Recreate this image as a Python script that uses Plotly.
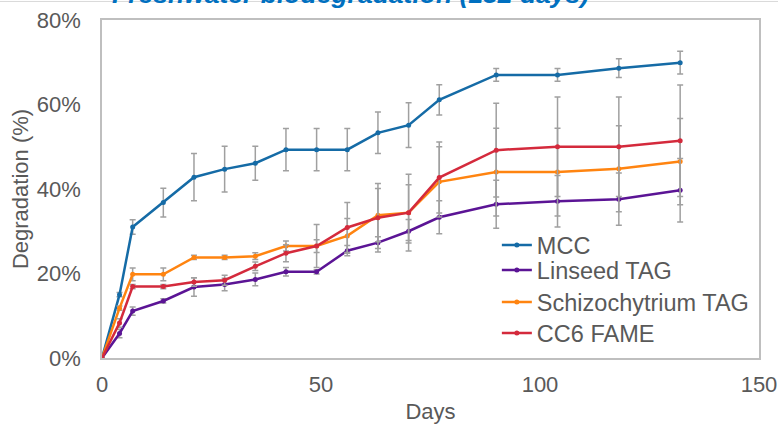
import plotly.graph_objects as go

days = [0, 4, 7, 14, 21, 28, 35, 42, 49, 56, 63, 70, 77, 90, 104, 118, 132]

mcc = [0, 15.0, 31.0, 36.8, 42.8, 44.7, 46.1, 49.3, 49.3, 49.3, 53.3, 55.1, 61.1, 67.0, 67.0, 68.6, 69.9]
mcc_err = [0, 0.5, 1.7, 3.4, 5.6, 5.4, 4.0, 5.0, 5.0, 5.0, 4.9, 5.3, 3.6, 1.5, 1.5, 2.2, 2.7]

linseed = [0, 5.8, 11.1, 13.5, 16.8, 17.4, 18.6, 20.4, 20.4, 25.4, 27.3, 30.0, 33.3, 36.4, 37.1, 37.6, 39.7]
linseed_err = [0, 1.0, 1.0, 0.5, 2.2, 1.5, 1.5, 1.0, 0.5, 1.2, 1.4, 2.8, 3.9, 5.7, 6.1, 6.2, 7.5]

schizo = [0, 11.8, 19.8, 19.8, 23.8, 23.8, 24.1, 26.5, 26.5, 28.9, 33.8, 34.4, 41.7, 44.0, 44.0, 44.8, 46.5]
schizo_err = [0, 0.5, 1.5, 1.5, 0.5, 0.5, 0.8, 1.2, 1.5, 4.1, 6.3, 6.6, 8.3, 10.4, 10.4, 10.2, 10.2]

cc6 = [0, 8.3, 16.9, 16.9, 18.0, 18.4, 21.7, 24.8, 26.5, 30.9, 33.2, 34.4, 42.7, 49.2, 50.0, 50.0, 51.4]
cc6_err = [0, 1.0, 0.5, 0.5, 1.0, 1.2, 1.0, 2.0, 5.1, 5.9, 8.1, 9.1, 8.4, 11.1, 11.8, 11.8, 13.2]

series_names = ["MCC", "Linseed TAG", "Schizochytrium TAG", "CC6 FAME"]
series_vals = [mcc, linseed, schizo, cc6]
series_errs = [mcc_err, linseed_err, schizo_err, cc6_err]
series_colors = ["#156BA6", "#5B1495", "#FF8410", "#D42A3C"]

x_ticks = [0, 50, 100, 150]
y_ticks = [0, 20, 40, 60, 80]
y_tick_labels = ["0%", "20%", "40%", "60%", "80%"]

FONT = "Liberation Sans, Arial, sans-serif"
GRAY = "#595959"

# one legend box per entry so the uneven spacing of the reference can be kept
legend_ids = ["legend", "legend2", "legend3", "legend4"]
legend_y = [0.3337, 0.2597, 0.165, 0.0731]

fig = go.Figure()
for name, vals, errs, col, lid in zip(series_names, series_vals, series_errs, series_colors, legend_ids):
    fig.add_trace(go.Scatter(
        x=days, y=vals, name=name, mode="lines+markers",
        line=dict(color=col, width=2.5),
        marker=dict(color=col, size=5),
        error_y=dict(type="data", array=errs, visible=True,
                     color="#A0A0A0", thickness=1.5, width=3),
        legend=lid,
    ))

legend_common = dict(x=0.601, xanchor="left", yanchor="middle",
                     bgcolor="rgba(0,0,0,0)", font=dict(size=23.5, color=GRAY),
                     itemwidth=30)

fig.update_layout(
    width=778, height=424,
    margin=dict(l=102, r=19, t=20, b=66, autoexpand=False),
    paper_bgcolor="white", plot_bgcolor="white",
    font=dict(family=FONT, color=GRAY, size=22),
    showlegend=True,
    legend=dict(y=legend_y[0], **legend_common),
    legend2=dict(y=legend_y[1], **legend_common),
    legend3=dict(y=legend_y[2], **legend_common),
    legend4=dict(y=legend_y[3], **legend_common),
    xaxis=dict(range=[0, 150], tickvals=x_ticks, showgrid=False, zeroline=False,
               showline=True, mirror=True, linecolor="#BFBFBF", linewidth=1.5,
               ticks="outside", ticklen=6, tickcolor="rgba(0,0,0,0)",
               tickfont=dict(size=22, color=GRAY), automargin=False,
               title=dict(text="Days", font=dict(size=22, color=GRAY), standoff=20)),
    yaxis=dict(range=[0, 80], tickvals=y_ticks, ticktext=y_tick_labels,
               showgrid=False, zeroline=False,
               showline=True, mirror=True, linecolor="#BFBFBF", linewidth=1.5,
               ticks="outside", ticklen=15, tickcolor="rgba(0,0,0,0)",
               tickfont=dict(size=22, color=GRAY), automargin=False,
               title=dict(text="Degradation (%)", font=dict(size=22, color=GRAY), standoff=2)),
    shapes=[dict(type="line", xref="paper", yref="paper",
                 x0=-0.2, x1=1.1, y0=1.0548, y1=1.0548,
                 line=dict(color="#D9D9D9", width=1))],
    annotations=[dict(text="<b><i>Freshwater biodegradation (132 days)</i></b>",
                      xref="paper", yref="paper", x=0.378, y=1, xanchor="center",
                      yanchor="middle", yshift=26, showarrow=False,
                      font=dict(size=26.5, color="#0070C0", family=FONT))],
)

fig.write_html("out.html")
